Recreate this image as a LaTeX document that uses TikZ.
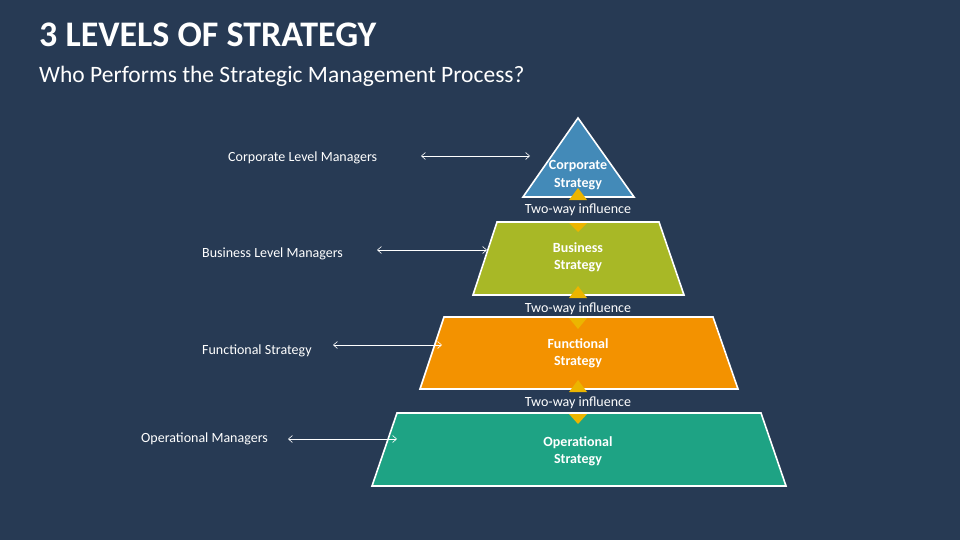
\documentclass[tikz,border=0pt]{standalone}
\usepackage{fontspec}
\setmainfont{Carlito}
\usetikzlibrary{arrows.meta}

\definecolor{bgblue}{RGB}{39,58,84}
\definecolor{corpblue}{RGB}{67,138,184}
\definecolor{busgreen}{RGB}{168,184,38}
\definecolor{funcorange}{RGB}{243,146,0}
\definecolor{opteal}{RGB}{30,163,132}
\definecolor{gold}{RGB}{236,181,0}

\tikzset{
  level/.style={draw=white, line width=1.6pt, line join=miter},
  levtext/.style={text=white, font=\fontsize{14}{17.5}\selectfont\bfseries, align=center, inner sep=0pt},
  who/.style={text=white, font=\fontsize{14}{17}\selectfont, anchor=west, inner sep=0pt},
  twoway/.style={text=white, font=\fontsize{14}{17}\selectfont, inner sep=0pt},
  link/.style={white, line width=0.6pt, {Straight Barb[length=4pt,width=7pt]}-{Straight Barb[length=4pt,width=7pt]}},
  tip/.style={fill=gold}
}

\begin{document}
\begin{tikzpicture}[x=1pt, y=-1pt]

\fill[bgblue] (0,0) rectangle (960,540);
\useasboundingbox (0,0) rectangle (960,540);

% title
\node[text=white, anchor=west, inner sep=0pt, font=\fontsize{36}{40}\selectfont\bfseries] (title) at (39,35) {3 LEVELS OF STRATEGY};
\node[text=white, anchor=west, inner sep=0pt, font=\fontsize{23.5}{28}\selectfont] (subtitle) at (39,76.5) {Who Performs the Strategic Management Process?};

% pyramid
\filldraw[level, fill=corpblue] (578,118) -- (634,197) -- (523,197) -- cycle;
\filldraw[level, fill=busgreen] (497,222) -- (659,222) -- (684,295) -- (473,295) -- cycle;
\filldraw[level, fill=funcorange] (444,317) -- (713,317) -- (738,389) -- (420,389) -- cycle;
\filldraw[level, fill=opteal] (397,413) -- (761,413) -- (786,486) -- (372,486) -- cycle;

% two-way tips
\fill[tip] (578,188) -- (587,200) -- (569,200) -- cycle;
\fill[tip] (569,223) -- (587,223) -- (578,232) -- cycle;
\fill[tip] (578,286) -- (587,298) -- (569,298) -- cycle;
\fill[tip] (569,318) -- (587,318) -- (578,329) -- cycle;
\fill[tip] (578,380) -- (587,392) -- (569,392) -- cycle;
\fill[tip] (569,414) -- (587,414) -- (578,424) -- cycle;

\node[levtext] (corp) at (578,175) {Corporate\\Strategy};
\node[levtext] (bus) at (578,257.5) {Business\\Strategy};
\node[levtext] (func) at (578,353.5) {Functional\\Strategy};
\node[levtext] (oper) at (578,451.5) {Operational\\Strategy};

\node[twoway] (tw1) at (578,209.5) {Two-way influence};
\node[twoway] (tw2) at (578,308.5) {Two-way influence};
\node[twoway] (tw3) at (578,402.5) {Two-way influence};

% who performs
\node[who] (corpman) at (228,157.5) {Corporate Level Managers};
\node[who] (busman) at (202,253.5) {Business Level Managers};
\node[who] (funcman) at (202,350.5) {Functional Strategy};
\node[who] (operman) at (141,438.5) {Operational Managers};

\coordinate (c1) at (421,156);
\coordinate (c2) at (530,156);
\coordinate (b1) at (377,250);
\coordinate (b2) at (487,250);
\coordinate (f1) at (333,345);
\coordinate (f2) at (442,345);
\coordinate (o1) at (288,439);
\coordinate (o2) at (397,439);

\draw[link] (c1) -- (c2);
\draw[link] (b1) -- (b2);
\draw[link] (f1) -- (f2);
\draw[link] (o1) -- (o2);

\end{tikzpicture}
\end{document}
